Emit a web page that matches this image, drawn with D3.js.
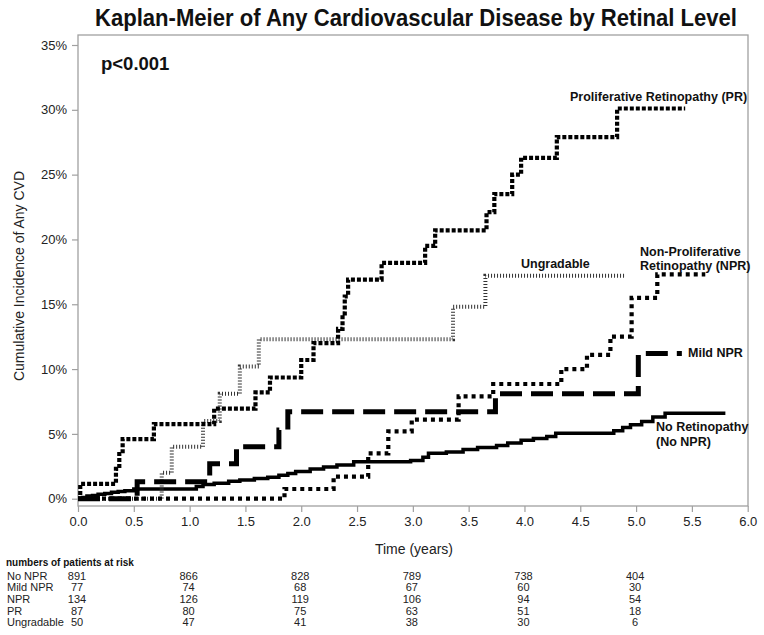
<!DOCTYPE html>
<html><head><meta charset="utf-8">
<script src="https://cdn.jsdelivr.net/npm/d3@7"></script>
<style>
body{margin:0;background:#fff;}
svg{display:block;font-family:"Liberation Sans",Arial,sans-serif;}
</style></head>
<body><svg id="c" width="764" height="635"></svg>
<script>
// ---- data (time in years, cumulative incidence in %) ----
const prTimes  = [0, 0.02, 0.34, 0.37, 0.40, 0.68, 1.22, 1.59, 1.72, 2.00, 2.11, 2.33, 2.37, 2.39, 2.42, 2.72, 3.11, 3.20, 3.66, 3.73, 3.89, 3.97, 4.29, 4.83, 5.44];
const prPct    = [0, 1.15, 2.3, 3.45, 4.6, 5.75, 6.95, 8.2, 9.35, 10.7, 12.0, 13.1, 14.3, 15.6, 16.9, 18.2, 19.5, 20.7, 22.1, 23.5, 25.0, 26.3, 27.9, 30.1, 30.1];

const nprTimes = [0, 1.85, 2.29, 2.60, 2.78, 2.99, 3.41, 3.72, 4.33, 4.56, 4.77, 4.96, 5.19, 5.62];
const nprPct   = [0, 0.75, 1.7, 3.5, 5.2, 6.1, 7.9, 8.85, 10.0, 11.1, 12.5, 15.5, 17.3, 17.3];

const mildTimes = [0, 0.53, 1.18, 1.42, 1.80, 1.88, 3.74, 5.02, 5.41];
const mildPct   = [0, 1.3, 2.7, 4.0, 5.3, 6.7, 8.1, 11.2, 11.2];

const ungTimes = [0, 0.75, 0.84, 1.12, 1.27, 1.45, 1.62, 3.36, 3.65, 4.90];
const ungPct   = [0, 2.0, 4.0, 6.0, 8.1, 10.2, 12.3, 14.8, 17.2, 17.2];

const noTimes = [0, 0.04, 0.08, 0.13, 0.18, 0.24, 0.30, 0.36, 0.42, 0.50, 1.06, 1.12, 1.22, 1.35, 1.45, 1.58, 1.70, 1.80, 1.88, 1.95, 2.08, 2.20, 2.32, 2.47, 2.98, 3.09, 3.14, 3.30, 3.45, 3.58, 3.75, 3.85, 3.97, 4.08, 4.20, 4.28, 4.80, 4.88, 4.95, 5.05, 5.15, 5.26, 5.80];
const noPct   = [0, 0.1, 0.2, 0.25, 0.35, 0.4, 0.5, 0.55, 0.62, 0.75, 0.95, 1.1, 1.2, 1.35, 1.45, 1.55, 1.65, 1.8, 1.95, 2.1, 2.3, 2.45, 2.6, 2.85, 2.95, 3.2, 3.5, 3.6, 3.8, 3.95, 4.1, 4.3, 4.5, 4.65, 4.8, 5.05, 5.25, 5.5, 5.7, 5.95, 6.3, 6.6, 6.6];

const xTicks = [0, 0.5, 1, 1.5, 2, 2.5, 3, 3.5, 4, 4.5, 5, 5.5, 6];
const yTicks = [0, 5, 10, 15, 20, 25, 30, 35];

const riskGroups = ["No NPR", "Mild NPR", "NPR", "PR", "Ungradable"];
const riskTimes  = [0, 1, 2, 3, 4, 5];
const riskNoNpr  = [891, 866, 828, 789, 738, 404];
const riskMild   = [77, 74, 68, 67, 60, 30];
const riskNpr    = [134, 126, 119, 106, 94, 54];
const riskPr     = [87, 80, 75, 63, 51, 18];
const riskUng    = [50, 47, 41, 38, 30, 6];

// ---- layout ----
const svg = d3.select("#c");
const L = 78, R = 748, T = 35, B = 506;
const x = d3.scaleLinear().domain([0, 6]).range([L, 747.7]);
const y = d3.scaleLinear().domain([0, 35]).range([498.7, 45]);

// title
svg.append("text").attr("x", 95).attr("y", 26)
  .attr("textLength", 642).attr("lengthAdjust", "spacingAndGlyphs")
  .style("font-size", "23px").style("font-weight", "bold").attr("fill", "#111")
  .text("Kaplan-Meier of Any Cardiovascular Disease by Retinal Level");

// frame
svg.append("rect").attr("x", L).attr("y", T).attr("width", R - L).attr("height", B - T)
  .attr("fill", "none").attr("stroke", "#a0a0a0").attr("stroke-width", 1.3);

// axes
const yAxis = d3.axisLeft(y).tickValues(yTicks).tickFormat(d => d + "%").tickSize(6).tickPadding(5);
const gy = svg.append("g").attr("transform", `translate(${L},0)`).call(yAxis);
gy.select(".domain").remove();
gy.selectAll("line").attr("stroke", "#a0a0a0").attr("stroke-width", 1.2);
gy.selectAll("text").style("font-size", "13px").attr("fill", "#222").style("font-family", "'Liberation Sans',Arial,sans-serif");

const xAxis = d3.axisBottom(x).tickValues(xTicks).tickFormat(d3.format(".1f")).tickSize(6).tickPadding(5);
const gx = svg.append("g").attr("transform", `translate(0,${B})`).call(xAxis);
gx.select(".domain").remove();
gx.selectAll("line").attr("stroke", "#a0a0a0").attr("stroke-width", 1.2);
gx.selectAll("text").style("font-size", "13px").attr("fill", "#222").style("font-family", "'Liberation Sans',Arial,sans-serif");

// axis titles
svg.append("text").attr("transform", "translate(24,276) rotate(-90)").attr("text-anchor", "middle")
  .style("font-size", "14px").attr("fill", "#222").text("Cumulative Incidence of Any CVD");
svg.append("text").attr("x", 414).attr("y", 554).attr("text-anchor", "middle")
  .style("font-size", "14px").attr("fill", "#222").text("Time (years)");

// curves
const line = d3.line().x(d => x(d[0])).y(d => y(d[1])).curve(d3.curveStepAfter);
const zip = (a, b) => a.map((v, i) => [v, b[i]]);
const series = [
  {t: noTimes, p: noPct, w: 3.5, dash: null, col: "#000"},
  {t: ungTimes, p: ungPct, w: 4, dash: "1 2", col: "#333"},
  {t: mildTimes, p: mildPct, w: 5, dash: "22 9", col: "#000"},
  {t: nprTimes, p: nprPct, w: 4.2, dash: "4 4", col: "#000"},
  {t: prTimes, p: prPct, w: 4.2, dash: "4 2", col: "#000"}
];
series.forEach(s => {
  svg.append("path").datum(zip(s.t, s.p)).attr("d", line)
    .attr("fill", "none").attr("stroke", s.col).attr("stroke-width", s.w)
    .attr("stroke-dasharray", s.dash);
});

// annotations
const lab = (tx, xx, yy, sz) => svg.append("text").attr("x", xx).attr("y", yy)
  .style("font-size", (sz || 12.5) + "px").style("font-weight", "bold").attr("fill", "#111").text(tx);
lab("p<0.001", 101, 70, 18.5);
lab("Proliferative Retinopathy (PR)", 570, 101);
lab("Non-Proliferative", 640, 256);
lab("Retinopathy (NPR)", 640, 270);
lab("Ungradable", 521, 268);
lab("Mild NPR", 688, 357);
lab("No Retinopathy", 656, 431);
lab("(No NPR)", 656, 446);

// risk table
svg.append("text").attr("x", 6).attr("y", 566).style("font-size", "10px").style("font-weight", "bold")
  .attr("fill", "#111").text("numbers of patients at risk");
const riskRows = [riskNoNpr, riskMild, riskNpr, riskPr, riskUng];
riskGroups.forEach((g, i) => {
  const yy = 579.5 + i * 11.7;
  svg.append("text").attr("x", 7).attr("y", yy).style("font-size", "11px").attr("fill", "#222").text(g);
  riskRows[i].forEach((v, j) => {
    svg.append("text").attr("x", x(riskTimes[j]) - 1).attr("y", yy).attr("text-anchor", "middle")
      .style("font-size", "11px").attr("fill", "#222").text(v);
  });
});
</script></body></html>
